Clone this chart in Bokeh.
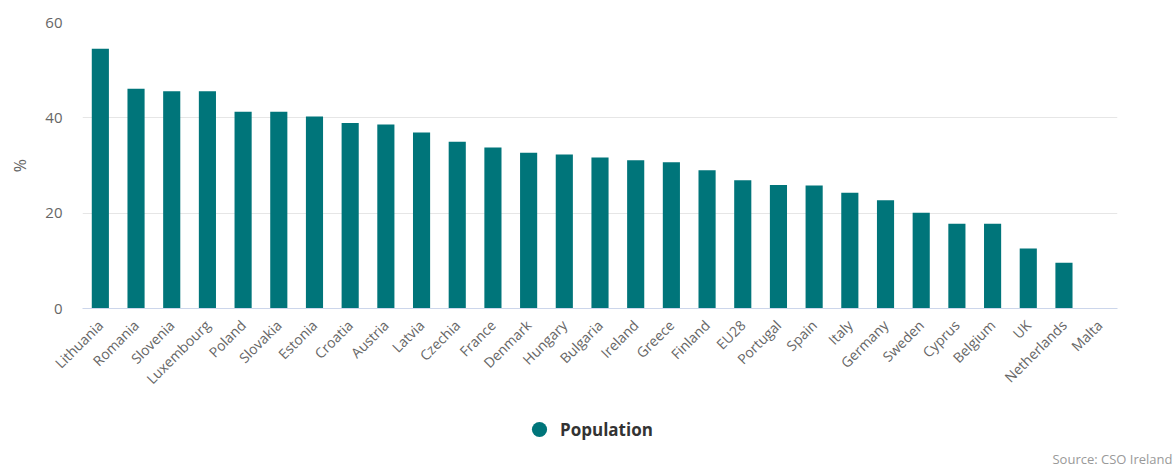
import math
from bokeh.plotting import figure
from bokeh.layouts import column
from bokeh.models import Range1d, FactorRange, FixedTicker, Legend, LegendItem, Title, ColumnDataSource
from bokeh.embed import file_html
from bokeh.resources import INLINE

countries = ["Lithuania", "Romania", "Slovenia", "Luxembourg", "Poland", "Slovakia", "Estonia",
             "Croatia", "Austria", "Latvia", "Czechia", "France", "Denmark", "Hungary", "Bulgaria",
             "Ireland", "Greece", "Finland", "EU28", "Portugal", "Spain", "Italy", "Germany",
             "Sweden", "Cyprus", "Belgium", "UK", "Netherlands", "Malta"]
population = [54.5, 46.1, 45.6, 45.6, 41.3, 41.3, 40.3, 38.9, 38.6, 36.9, 35.0, 33.8, 32.7,
              32.3, 31.7, 31.1, 30.7, 29.0, 26.9, 25.9, 25.8, 24.3, 22.7, 20.1, 17.8, 17.8,
              12.6, 9.6, 0.0]
y_ticks = [0, 20, 40, 60]
series_name = "Population"
source_text = "Source: CSO Ireland"

TEAL = "#00757A"
FONT = "Open Sans"

src = ColumnDataSource(dict(country=countries, value=population))

p = figure(width=1175, height=398, output_backend="svg", toolbar_location=None,
           x_range=FactorRange(*countries, range_padding=0),
           y_range=Range1d(0, 60),
           min_border_left=82, min_border_right=58, min_border_top=22, min_border_bottom=90)
p.outline_line_color = None
p.background_fill_color = "white"
p.border_fill_color = "white"

p.vbar(x="country", top="value", width=0.48, source=src, fill_color=TEAL, line_color=None)

# y axis
p.yaxis.ticker = FixedTicker(ticks=y_ticks)
p.yaxis.axis_line_color = None
p.yaxis.major_tick_line_color = None
p.yaxis.minor_tick_line_color = None
p.yaxis.major_tick_out = 0
p.yaxis.major_tick_in = 0
p.yaxis.minor_tick_out = 0
p.yaxis.major_label_standoff = 20
p.yaxis.major_label_text_font = FONT
p.yaxis.major_label_text_font_size = "15px"
p.yaxis.major_label_text_color = "#666666"
p.yaxis.axis_label = "%"
p.yaxis.axis_label_text_font = FONT
p.yaxis.axis_label_text_font_style = "normal"
p.yaxis.axis_label_text_font_size = "16px"
p.yaxis.axis_label_text_color = "#666666"
p.yaxis.axis_label_standoff = 11

p.ygrid.grid_line_color = "#e6e6e6"
p.xgrid.grid_line_color = None

# x axis
p.xaxis.axis_line_color = "#ccd6eb"
p.xaxis.major_tick_line_color = None
p.xaxis.minor_tick_line_color = None
p.xaxis.major_tick_out = 0
p.xaxis.major_tick_in = 0
p.xaxis.minor_tick_out = 0
p.xaxis.major_label_orientation = math.pi / 4
p.xaxis.major_label_standoff = 14
p.xaxis.major_label_text_font = FONT
p.xaxis.major_label_text_font_size = "14px"
p.xaxis.major_label_text_color = "#666666"

# legend + source strip
p2 = figure(width=1175, height=73, output_backend="svg", toolbar_location=None,
            x_range=Range1d(0, 1), y_range=Range1d(0, 1),
            x_axis_location=None, y_axis_location=None,
            min_border=0, min_border_left=82, min_border_right=58, min_border_bottom=26)
p2.outline_line_color = None
p2.grid.visible = False

proxy = ColumnDataSource(dict(x=[-1], y=[-1]))
dummy = p2.scatter(x="x", y="y", source=proxy, marker="circle", size=17,
                   fill_color=TEAL, line_color=None)
legend = Legend(items=[LegendItem(label=series_name, renderers=[dummy])],
                orientation="horizontal", location=(436, -4),
                border_line_color=None, background_fill_alpha=0,
                label_text_font=FONT, label_text_font_style="bold",
                label_text_font_size="17px", label_text_color="#333333",
                glyph_width=42, glyph_height=38, label_standoff=0, margin=0, padding=0)
p2.add_layout(legend)

t = Title(text=source_text, align="right", offset=-55, standoff=7, text_font=FONT,
          text_font_size="13px", text_color="#999999", text_font_style="normal")
p2.add_layout(t, "below")

open("out.html", "w").write(file_html(column(p, p2), INLINE))
